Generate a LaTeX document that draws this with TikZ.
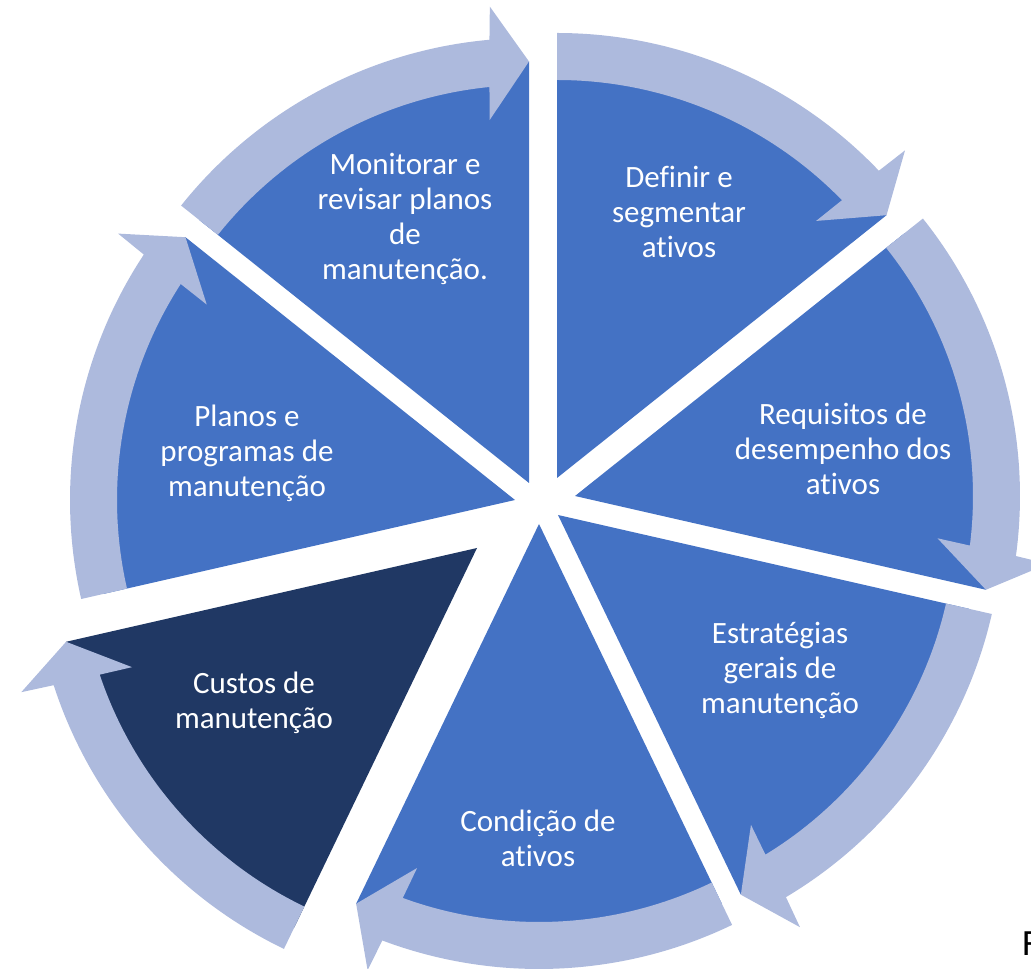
\documentclass[tikz,border=0pt]{standalone}
\usepackage{fontspec}
\setmainfont{Carlito}[Ligatures=NoCommon]
\definecolor{pieblue}{HTML}{4472C4}
\definecolor{arrowblue}{HTML}{ADBADD}
\definecolor{piedark}{HTML}{203864}
\newcommand\mysegment[4]{% #1 apex x, #2 apex y (image coords), #3 start angle, #4 pie colour
  \begin{scope}[shift={(#1,969-#2)}]
    \pgfmathsetmacro\segE{#3-360/7}
    \pgfmathsetmacro\aA{\segE+5.1}
    \pgfmathsetmacro\aB{\segE+4.7}
    \pgfmathsetmacro\aC{\segE+6.2}
    \pgfmathsetmacro\aD{\segE+5.7}
    \fill[#4] (0,0) -- (#3:421.5pt) arc[start angle=#3, end angle=\segE, radius=421.5pt] -- cycle;
    \fill[arrowblue] (#3:398pt) -- (#3:445pt) arc[start angle=#3, end angle=\aA, radius=445pt]
      -- (\aB:478pt) -- (\segE:421.5pt) -- (\aC:365pt) -- (\aD:398pt)
      arc[start angle=\aD, end angle=#3, radius=398pt] -- cycle;
  \end{scope}}
\tikzset{lbl/.style={text=white, align=center, font=\fontsize{31}{35}\selectfont, inner sep=0pt}}
\begin{document}
\begin{tikzpicture}[x=1pt,y=1pt]
  \useasboundingbox (0,0) rectangle (1031,969);
  \clip (0,0) rectangle (1031,969);
  \mysegment{557}{478}{90}{pieblue}
  \mysegment{575}{496}{38.5714}{pieblue}
  \mysegment{558}{515}{-12.8571}{pieblue}
  \mysegment{539}{524}{-64.2857}{pieblue}
  \mysegment{477}{548}{-115.7143}{piedark}
  \mysegment{515}{500}{-167.1429}{pieblue}
  \mysegment{529}{483}{141.4286}{pieblue}
  \node[lbl] (t1) at (679,969-212) {Definir e\\segmentar\\ativos};
  \node[lbl] (t2) at (843,969-449) {Requisitos de\\desempenho dos\\ativos};
  \node[lbl] (t3) at (780,969-670) {Estratégias\\gerais de\\manutenção};
  \node[lbl] (t4) at (538,969-838) {Condição de\\ativos};
  \node[lbl] (t5) at (254,969-703) {Custos de\\manutenção};
  \node[lbl] (t6) at (247,969-453) {Planos e\\programas de\\manutenção};
  \node[lbl] (t7) at (405,969-219) {Monitorar e\\revisar planos\\de\\manutenção.};
  \node[anchor=base west, inner sep=0pt, font=\fontsize{37}{44}\selectfont] (f) at (1022,13) {F};
\end{tikzpicture}
\end{document}
